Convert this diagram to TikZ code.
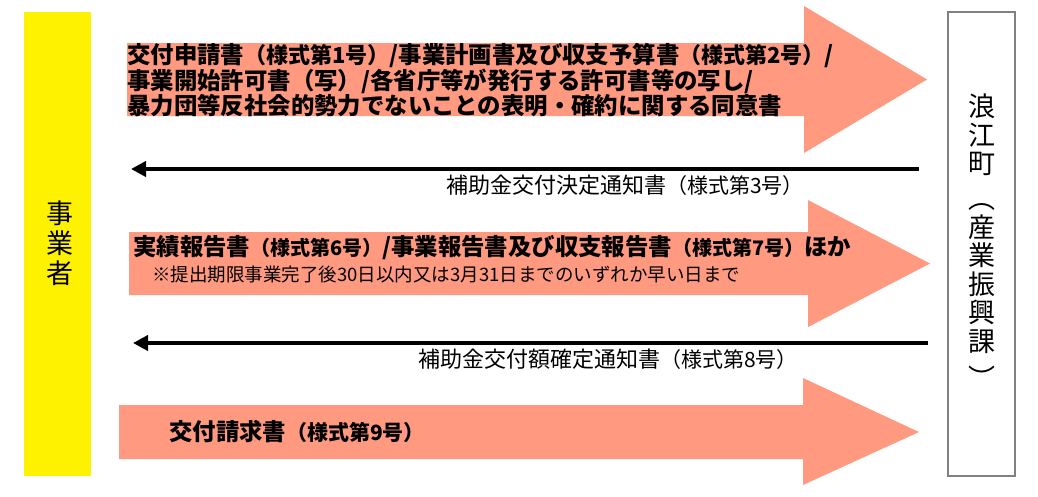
\documentclass[tikz,border=0pt]{standalone}
\usepackage{fontspec}
\newfontfamily\jp{Noto Sans CJK JP}
\usetikzlibrary{arrows.meta}
\definecolor{salmon}{RGB}{255,153,128}
\definecolor{gborder}{RGB}{128,128,128}
\newcommand\parensz[2]{{\fontsize{#1}{20}\selectfont #2}}
\newcommand\parenlt[1]{{\fontsize{21}{20}\selectfont #1}}
\begin{document}
\begin{tikzpicture}[x=1pt,y=-1pt,
  bigarrow/.style={fill=salmon,draw=none},
  backarrow/.style={line width=4.5pt,-{Triangle[length=15pt,width=15pt]}},
  boldtxt/.style={font={\jp\bfseries\fontsize{23.4}{25.5}\selectfont},inner sep=0pt,anchor=west,align=left},
  notetxt/.style={font={\jp\fontsize{18.5}{20}\selectfont},inner sep=0pt,anchor=west},
  lbltxt/.style={font={\jp\fontsize{22}{24}\selectfont},inner sep=0pt},
  vtxt/.style={font={\jp\fontsize{27}{30}\selectfont},inner sep=0pt,align=center},
  ttxt/.style={font={\jp\fontsize{27}{28.5}\selectfont},inner sep=0pt,align=center}
]
\useasboundingbox (0,0) rectangle (1038,496);
% side boxes
\node[fill=yellow,draw=none,minimum width=67pt,minimum height=464pt,inner sep=0pt] (biz) at (57.5,244) {};
\node[fill=white,draw=gborder,line width=2pt,minimum width=67pt,minimum height=464pt,inner sep=0pt] (town) at (981.5,243.5) {};
\node[vtxt] (biztxt) at (60,243) {事\\業\\者};
\node[ttxt] (towntxt1) at (982,135) {浪\\江\\町};
\node[ttxt] (towntxt2) at (982,269.75) {\vphantom{産}︵\\産\\業\\振\\興\\課};
\node[ttxt] (towntxt3) at (982,377) {︶};
% big arrows
\fill[bigarrow] (127,43) -- (804,43) -- (804,6) -- (927,79.5) -- (804,153) -- (804,116) -- (127,116) -- cycle;
\fill[bigarrow] (129,232) -- (808,232) -- (808,200) -- (930,263.5) -- (808,327) -- (808,295) -- (129,295) -- cycle;
\fill[bigarrow] (119,405) -- (803,405) -- (803,378) -- (919,432) -- (803,485) -- (803,459) -- (119,459) -- cycle;
\node[boldtxt] (t1) at (127,80.5) {交付申請書\parensz{22}{（様式第1号）}/事業計画書及び収支予算書\parensz{22}{（様式第2号）}/\\事業開始許可書（写）/各省庁等が発行する許可書等の写し/\\暴力団等反社会的勢力でないことの表明・確約に関する同意書};
\node[boldtxt] (t2) at (133,248) {実績報告書\parensz{20}{（様式第6号）}/事業報告書及び収支報告書\parensz{20}{（様式第7号）}ほか};
\node[notetxt] (t2b) at (152,274) {※提出期限事業完了後30日以内又は3月31日までのいずれか早い日まで};
\node[boldtxt] (t3) at (169,432) {交付請求書\parensz{21}{（様式第9号）}};
% back arrows
\coordinate (a1s) at (919,169);
\coordinate (a1e) at (131,169);
\coordinate (a2s) at (928,343);
\coordinate (a2e) at (133,343);
\draw[backarrow] (a1s) -- (a1e);
\draw[backarrow] (a2s) -- (a2e);
\node[lbltxt] (l1) at (625,185) {補助金交付決定通知書\parenlt{（様式第3号）}};
\node[lbltxt] (l2) at (608,359) {補助金交付額確定通知書\parenlt{（様式第8号）}};
\end{tikzpicture}
\end{document}
